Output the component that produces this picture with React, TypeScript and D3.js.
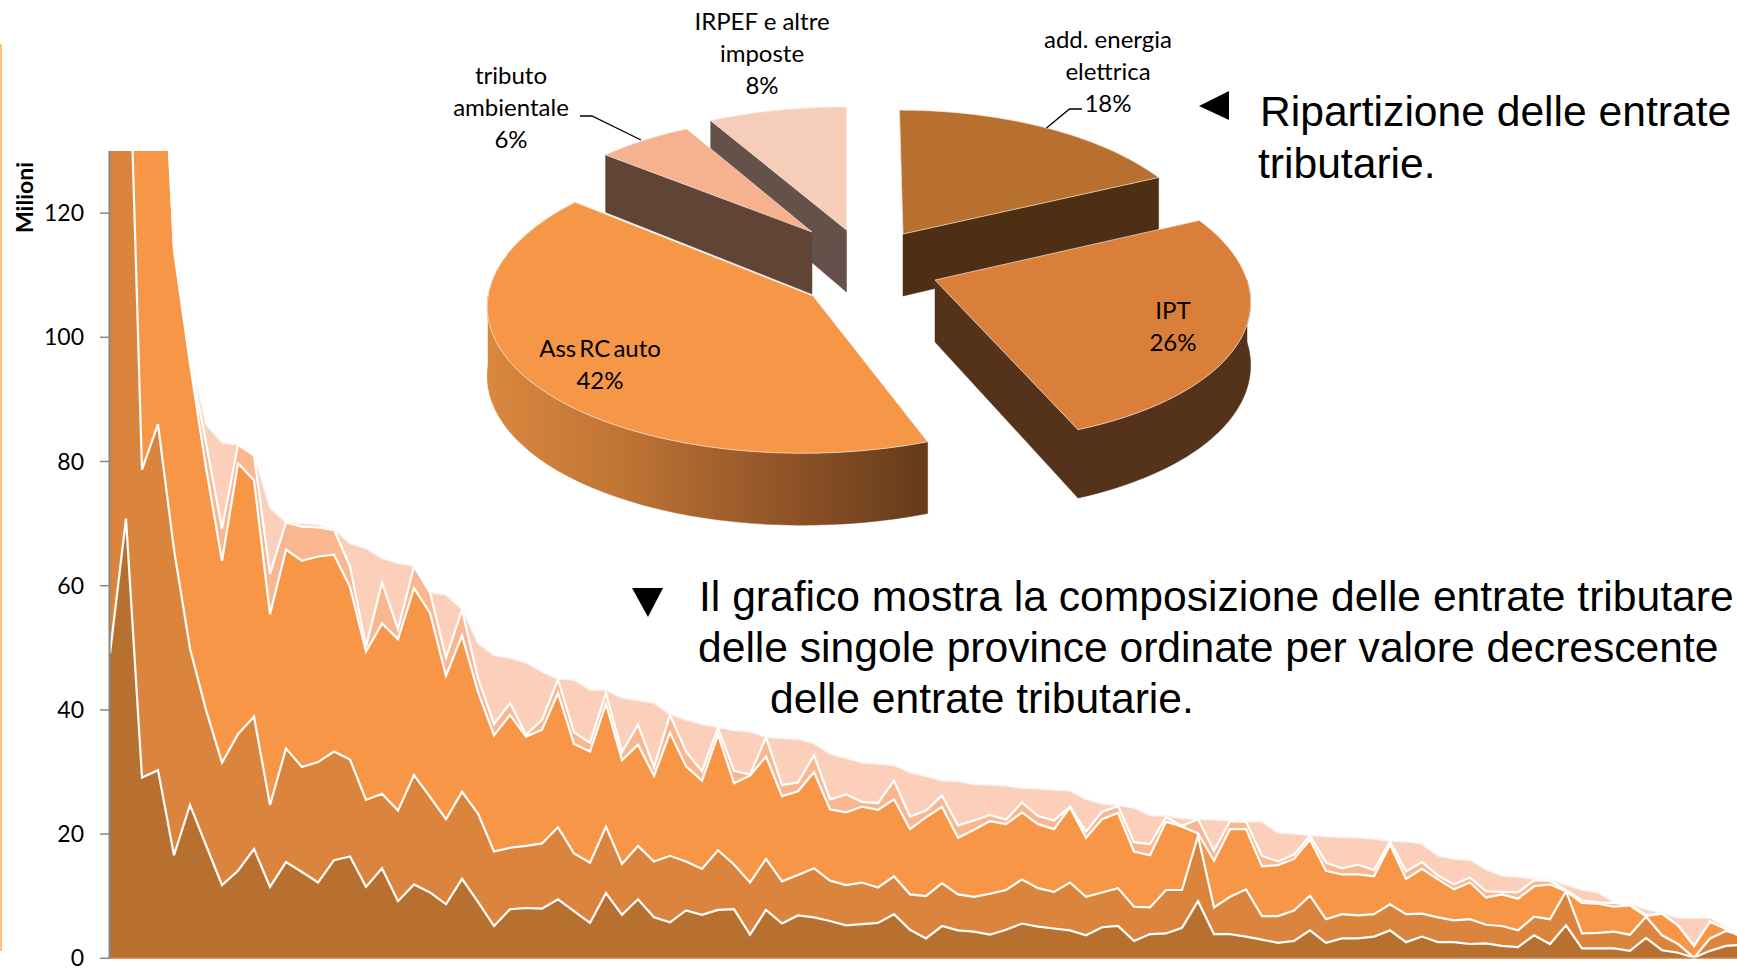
import React from "react";
import * as d3 from "d3";

// cumulative tops of the stacked series, in millions, per province (clipped above 130)
const topEnergia = [49.1,70.8,29.1,30.3,16.6,24.7,18.2,11.8,14.1,17.6,
11.5,15.5,13.9,12.2,15.8,16.4,11.5,14.5,9.2,11.9,
10.6,8.7,12.8,9.1,5.2,7.9,8.1,8.0,9.5,7.6,
5.7,10.5,7.0,9.5,6.6,5.8,7.7,7.0,7.8,7.9,
3.8,7.8,5.6,6.9,6.6,6.0,5.3,5.5,5.7,7.1,
4.6,3.2,5.2,4.5,4.3,3.8,4.6,5.6,5.1,4.8,
4.5,3.7,5.0,5.2,2.8,3.9,4.0,4.9,9.2,3.9,
3.9,3.5,3.0,2.5,2.8,4.5,2.5,3.2,3.2,3.5,
4.5,2.6,3.5,2.6,2.6,2.3,2.4,2.0,1.8,3.7,
2.3,5.3,1.6,1.6,1.6,1.2,3.3,1.3,0.9,0.1,
1.2,2.0,2.2];
const topIpt = [140,166,78.7,86,65.8,49.9,40,31.5,36.1,38.9,
24.7,33.8,30.8,31.6,33.3,32.0,25.5,26.5,23.8,29.5,
26.0,22.4,26.8,23.3,17.2,17.8,18.1,18.5,21.1,16.9,
15.4,21.2,15.2,18.1,15.6,16.5,15.6,14.4,17.4,15.1,
12.2,16.0,12.4,13.4,14.5,12.5,11.8,12.2,11.4,13.2,
10.3,10.0,12.1,10.3,9.9,10.4,11.0,12.7,11.3,10.7,
12.2,9.9,10.6,11.3,8.3,8.2,11.0,11.0,19.7,8.2,
9.9,11.1,6.8,6.8,7.7,10.1,6.3,7.1,6.9,7.1,
8.7,7.1,7.2,6.6,6.1,6.3,5.4,5.2,4.5,6.7,
6.3,10.8,4.0,4.1,4.3,3.8,6.7,3.7,2.3,0.1,
3.2,4.4,3.7];
const topRc = [150,200,190,165,114,95.8,79,64,79.7,77,
55.4,65.8,64.0,64.7,65.0,59.8,49.4,53.9,51.4,59.6,
55.6,45.5,52,42.9,35.9,39.2,35.7,36.8,42.7,34.5,
33.3,41,31.9,34.4,29.4,36.3,30.9,28.6,36,28.2,
29.4,32.5,26.1,26.9,30,24,23.5,24.4,23.9,25.6,
20.8,22.7,24.4,19.4,20.7,22.1,21.6,23.5,21.6,20.8,
24.3,19.4,22.4,23.4,17.2,16.6,22,21.2,20.1,15.7,
20.8,20.8,14.8,15,16,19.1,14.1,13.5,13.5,13.2,
18.3,12.8,14.4,12.7,11.1,12.2,9.8,10.3,9.6,11.6,
11.9,10.8,8.9,8.8,8.3,8.5,6.8,7.2,5.3,2.0,
5.9,4.7,3.4];
const topTributo = [150.5,201,191,166,114.6,96.3,83,69.2,82.7,81,
61.9,70.2,69.5,69.4,69.0,63.1,50.2,60.5,53.0,63.1,
58.9,48.4,56.1,45.1,37.7,41.1,36,38.4,44.9,36.4,
34.7,42.7,33.2,37.6,30.8,39.2,33.3,30.1,37.1,30.2,
29.6,35.6,27.9,28.3,32.7,25.6,26.4,25.2,25,28.6,
22.8,23.8,26.2,21.4,22.2,23.1,22.3,25.1,22.9,22.2,
24.4,20.4,23.6,24.5,18.7,18.4,22.7,21.3,22.4,17.3,
22.1,22,16.5,15.6,16.7,19.7,15.4,14.5,15.1,14.2,
18.8,14,15.5,13.3,11.9,13,10.8,10.7,10.6,12.6,
12.5,11,9.3,9,8.9,8.6,7,7.2,5.3,2.0,
5.9,4.8,3.4];
const topTotale = [151,202,192,167,115.7,96.9,85.9,83,82.7,81,
72.5,70.2,70,69.8,69.1,66.8,66,64.4,63.6,63.2,
58.9,58.5,56.2,50.7,48.8,48.3,47.6,46.1,45,44.8,
43.2,43.2,41.9,41.5,41.1,39.3,38.4,37.7,37.2,36.7,
36.5,35.6,35.4,35.3,34.6,32.9,32.2,31.5,31.3,31.1,
29.9,29.3,28.6,28.5,28,27.9,27.8,27.4,27.3,27.1,
27,25.6,24.9,24.6,24.2,23,22.9,22.5,22.4,22.3,
22.2,22,22,20.2,20,19.8,19.6,19.5,19.4,19.2,
18.9,18.8,18.4,16.5,16,15.8,14.3,13.3,13.1,12.8,
12.7,11.8,11,10.6,9,8.7,7.9,7.3,6.5,6.5,
6.5,5.1,3.5];
const yTicks = [0,20,40,60,80,100,120];

// pie data
const pieNames = ["add. energia elettrica","IPT","Ass RC auto","tributo ambientale","IRPEF e altre imposte"];
const pieShares = [18,26,42,6,8];

const W = 1737, H = 968;
const x = d3.scaleLinear().domain([0,102]).range([110,1742]);
const y = d3.scaleLinear().domain([0,130]).range([958.3,151]);

const layers = [
  { tops: topTotale, fill: "#FCCFBA", stroke: "#F7F5F3" },
  { tops: topTributo, fill: "#F9B68F", stroke: "#FFFFFF" },
  { tops: topRc, fill: "#F79646", stroke: "#FFFFFF" },
  { tops: topIpt, fill: "#DB843D", stroke: "#FFFFFF" },
  { tops: topEnergia, fill: "#B87031", stroke: "#FFFFFF" },
];

const area = d3.area<number>().x((_,i)=>x(i)).y0(y(0)).y1(d=>y(d));
const line = d3.line<number>().x((_,i)=>x(i)).y(d=>y(d));

// pie geometry: apex, horizontal radius, vertical radius, perspective, shear, depth
const sliceGeo = [
  { cx:903, cy:234, A:300, B:140, k:0.13, sh:-4, d:62, top:"#B87031", wall:"#4F2F13" },
  { cx:935, cy:280, A:312, B:146, k:0.10, sh:-16, d:62, top:"#DA7F39", wall:"#55321A" },
  { cx:813, cy:296, A:325, B:151, k:0.04, sh:10, d:69, top:"#F59746", wall:"url(#rcWall)" },
  { cx:812, cy:232, A:290, B:131, k:0.13, sh:0, d:62, top:"#F6B28F", wall:"#604536" },
  { cx:846.5, cy:230, A:314, B:139, k:0.13, sh:0, d:62, top:"#F6CDB8", wall:"#63514A" },
];
const drawOrder = [4,3,0,2,1];
const arcs = d3.pie<number>().sort(null)(pieShares);

function project(g:any, th:number, r=1, down=0){
  const X=Math.sin(th)*r, Y=Math.cos(th)*r;
  const s=1/(1+g.k*Y);
  return [g.cx+(g.A*X+g.sh*Y)*s, g.cy-g.B*Y*s+down*g.d*s] as [number,number];
}
const pathOf = d3.line().curve(d3.curveLinearClosed);

function Slice({index}:{index:number}){
  const g = sliceGeo[index], a = arcs[index];
  const TAU=Math.PI*2;
  const th0=a.startAngle, th1=a.endAngle;
  const samples = d3.range(0,41).map(i=>th0+(th1-th0)*i/40);
  const topPts = [project(g,0,0), ...samples.map(t=>project(g,t))];
  const walls:any[] = [];
  // radial walls
  if (Math.sin(th1)>0.001) walls.push([project(g,th1,0),project(g,th1),project(g,th1,1,1),project(g,th1,0,1)]);
  if (Math.sin(th0)<-0.001) walls.push([project(g,th0,0),project(g,th0),project(g,th0,1,1),project(g,th0,0,1)]);
  // outer wall: the part of the rim that faces the viewer
  const lo=Math.max(th0,TAU/4), hi=Math.min(th1,3*TAU/4);
  if (hi>lo){
    const rim=d3.range(0,41).map(i=>lo+(hi-lo)*i/40);
    walls.push([...rim.map(t=>project(g,t)), ...rim.slice().reverse().map(t=>project(g,t,1,1))]);
  }
  return <g>
    {walls.map((w,i)=><path key={i} d={pathOf(w)!} fill={g.wall} stroke={g.wall} strokeWidth={0.5}/>)}
    <path d={pathOf(topPts)!} fill={g.top} stroke="#F3E6DA" strokeWidth={0.7}/>
  </g>;
}

const sans = "Liberation Sans, Arial, sans-serif";
const label = "Lato, Open Sans, sans-serif";
const pieLabels = [
  { x:1108, ys:[48,80,112], t:["add. energia","elettrica","18%"] },
  { x:1173, ys:[319,351], t:["IPT","26%"] },
  { x:600, ys:[357,389], t:["Ass RC auto","42%"] },
  { x:511, ys:[84,116,148], t:["tributo","ambientale","6%"] },
  { x:762, ys:[30,62,94], t:["IRPEF e altre","imposte","8%"] },
];

export default function App(){
  return (
    <svg width={W} height={H} viewBox={`0 0 ${W} ${H}`} style={{position:"absolute",left:0,top:0,background:"#fff"}}>
      <defs>
        <clipPath id="plot"><rect x={110} y={151} width={W-110} height={H-151}/></clipPath>
        <linearGradient id="rcWall" gradientUnits="userSpaceOnUse" x1={487} x2={929} y1={0} y2={0}>
          <stop offset="0" stopColor="#DA873F"/>
          <stop offset="0.3" stopColor="#BF7535"/>
          <stop offset="0.6" stopColor="#9A5A2A"/>
          <stop offset="1" stopColor="#643A1B"/>
        </linearGradient>
      </defs>
      <line x1={1} x2={1} y1={44} y2={951} stroke="#FBC27A" strokeWidth={2}/>
      <g clipPath="url(#plot)">
        {layers.map((l,i)=><g key={i}>
          <path d={area(l.tops)!} fill={l.fill}/>
        </g>)}
        {layers.map((l,i)=><path key={i} d={line(l.tops)!} fill="none" stroke={l.stroke} strokeWidth={i===0?1.5:2.2} strokeLinejoin="miter"/>)}
        <line x1={110} x2={W} y1={958} y2={958} stroke="#D98C55" strokeWidth={1}/>
      </g>
      <line x1={109.5} x2={109.5} y1={151} y2={959} stroke="#868686" strokeWidth={2}/>
      {yTicks.map(t=><g key={t}>
        <line x1={100} x2={109} y1={y(t)} y2={y(t)} stroke="#868686" strokeWidth={1.5}/>
        <text x={84} y={y(t)+8} textAnchor="end" fontFamily={label} fontSize={23} fill="#000">{t}</text>
      </g>)}
      <text transform="translate(33,233) rotate(-90)" fontFamily="Lato, sans-serif" fontWeight={700} fontSize={23} fill="#000">Milioni</text>

      {drawOrder.map(i=><Slice key={i} index={i}/>)}
      {pieLabels.map((p,i)=><g key={i}>{p.t.map((s,j)=>
        <text key={j} x={p.x} y={p.ys[j]} textAnchor="middle" fontFamily={label} fontSize={24} wordSpacing={s==="Ass RC auto"?-3:0} fill="#000">{s}</text>)}</g>)}
      <path d={d3.line()([[580,116],[592,116],[641,140]])!} fill="none" stroke="#000" strokeWidth={1.3}/>
      <path d={d3.line()([[1082,109],[1069.5,109],[1046.5,128]])!} fill="none" stroke="#000" strokeWidth={1.3}/>

      <path d={pathOf([[1229,91],[1199,106],[1229,120]])!} fill="#000"/>
      <text x={1260} y={126} fontFamily={sans} fontSize={42.6} fill="#000">Ripartizione delle entrate</text>
      <text x={1258} y={178} fontFamily={sans} fontSize={42.6} fill="#000">tributarie.</text>

      <path d={pathOf([[632,588],[663,588],[648,617]])!} fill="#000"/>
      <text x={699} y={611} fontFamily={sans} fontSize={42.6} fill="#000">Il grafico mostra la composizione delle entrate tributare</text>
      <text x={698} y={662} fontFamily={sans} fontSize={42.6} fill="#000">delle singole province ordinate per valore decrescente</text>
      <text x={770} y={713} fontFamily={sans} fontSize={42.6} fill="#000">delle entrate tributarie.</text>
    </svg>
  );
}
